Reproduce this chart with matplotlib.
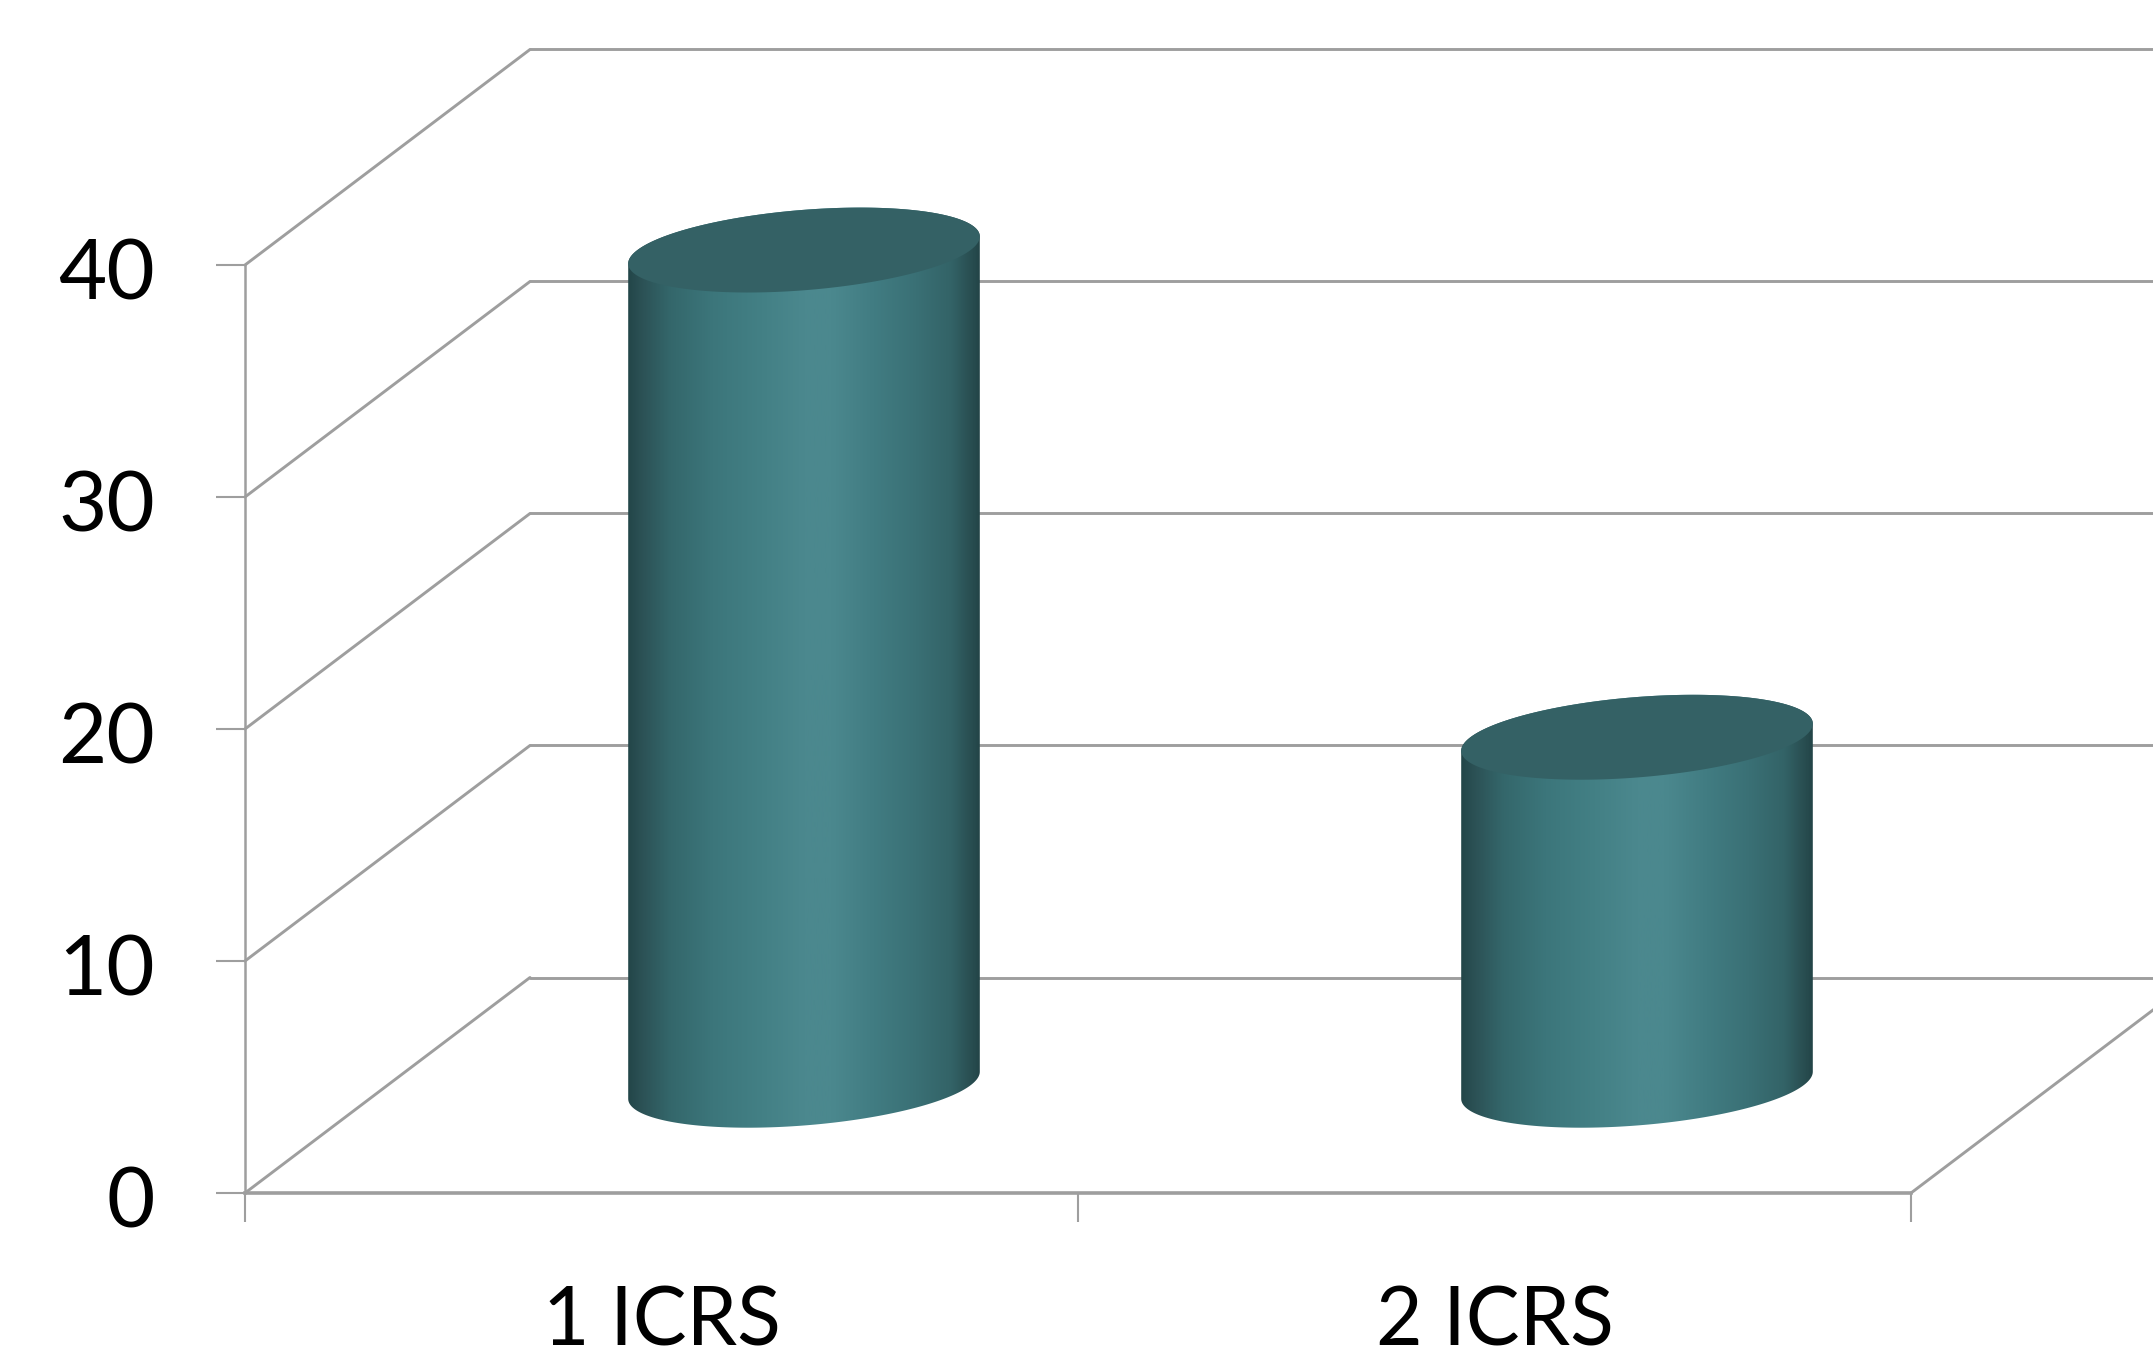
import numpy as np
import matplotlib
matplotlib.use("Agg")
import matplotlib.pyplot as plt
from matplotlib.colors import LinearSegmentedColormap
from matplotlib.patches import Polygon
from matplotlib.transforms import ScaledTranslation

# Chart data
categories = ["1 ICRS", "2 ICRS"]
values = [36, 15]
value_ticks = [0, 10, 20, 30, 40]

# Canvas and plot box, in pixels
W, H = 2153, 1351
LEFT, RIGHT, BOTTOM, TOP = 245, 1911, 1193, 265

# Oblique projection: a full unit of depth, expressed in data units
DEPTH_DX = 285 / ((RIGHT - LEFT) / 2)
DEPTH_DY = 215.5 / ((BOTTOM - TOP) / 40)

# Cylinder footprint
RADIUS_X = 0.2
RADIUS_DEPTH = 0.197
BAR_DEPTH = 0.5

GRID = "#9e9e9e"
TOP_FACE = "#346165"
SIDE_SHADE = LinearSegmentedColormap.from_list(
    "cylinder",
    [(0.00, "#234649"), (0.04, "#2c5256"), (0.12, "#34676b"), (0.24, "#3c767b"),
     (0.38, "#438085"), (0.50, "#4b888e"), (0.58, "#4b888e"), (0.70, "#417c82"),
     (0.82, "#3a7075"), (0.92, "#336367"), (0.97, "#2a5053"), (1.00, "#234548")],
)

plt.rcParams["font.family"] = ["Lato", "DejaVu Sans"]
fig = plt.figure(figsize=(W / 100, H / 100), dpi=100, facecolor="white")
ax = fig.add_axes([LEFT / W, (H - BOTTOM) / H, (RIGHT - LEFT) / W, (BOTTOM - TOP) / H])
ax.set_xlim(0, len(categories))
ax.set_ylim(0, value_ticks[-1])
ax.set_facecolor("none")


def project(cat, val, depth):
    """Map category, value and depth onto the flat data plane."""
    return cat + depth * DEPTH_DX, val + depth * DEPTH_DY


def line3d(start, end, lw=2.1):
    xs, ys = zip(project(*start), project(*end))
    ax.plot(xs, ys, color=GRID, lw=lw, clip_on=False, zorder=1, solid_capstyle="round")


# Back wall gridlines and side wall diagonals
far_right = len(categories) + 1
for v in value_ticks:
    line3d((0, v, 1), (far_right, v, 1))
    line3d((0, v, 0), (0, v, 1))
# Right edge of the floor
line3d((len(categories), 0, 0), (len(categories), 0, 1))

# Axes frame and ticks
for side in ("top", "right"):
    ax.spines[side].set_visible(False)
ax.spines["left"].set_color(GRID)
ax.spines["left"].set_linewidth(1.8)
ax.spines["bottom"].set_color(GRID)
ax.spines["bottom"].set_linewidth(2.6)
ax.set_yticks(value_ticks)
ax.set_xticks(range(len(categories) + 1))
ax.set_xticklabels([""] * (len(categories) + 1))
ax.tick_params(axis="y", length=21, width=1.5, color=GRID, labelsize=60, pad=44, labelcolor="black")
ax.tick_params(axis="x", length=21, width=1.5, color=GRID)
label_shift = ScaledTranslation(0, -4 / 100, fig.dpi_scale_trans)
for label in ax.get_yticklabels():
    label.set_transform(label.get_transform() + label_shift)
for i, name in enumerate(categories):
    ax.annotate(name, xy=(i + 0.5, 0), xycoords="data", xytext=(0, -93),
                textcoords="offset points", ha="center", va="center",
                fontsize=58, color="black", annotation_clip=False)


def ellipse(cat, val, t):
    x = cat + RADIUS_X * np.cos(t) + RADIUS_DEPTH * np.sin(t) * DEPTH_DX
    y = val + RADIUS_DEPTH * np.sin(t) * DEPTH_DY
    return x, y


# Cylinders: shaded side clipped to the outline, flat cap on top
gradient = np.linspace(0, 1, 512)[None, :]
t0 = np.arctan2(RADIUS_DEPTH * DEPTH_DX, RADIUS_X)
half_width = np.hypot(RADIUS_X, RADIUS_DEPTH * DEPTH_DX)
for i, v in enumerate(values):
    cx, base = project(i + 0.5, 0, BAR_DEPTH)
    top = base + v
    lower = np.linspace(t0 + np.pi, t0 + 2 * np.pi, 120)
    upper = np.linspace(t0, t0 + np.pi, 120)
    outline = np.vstack([np.column_stack(ellipse(cx, base, lower)),
                         np.column_stack(ellipse(cx, top, upper))])
    clip = Polygon(outline, closed=True, transform=ax.transData)
    im = ax.imshow(gradient, cmap=SIDE_SHADE, vmin=0, vmax=1, aspect="auto", zorder=3,
                   extent=(cx - half_width, cx + half_width, base - 10, top + 10))
    im.set_clip_box(fig.bbox)
    im.set_clip_path(clip)
    cap = np.linspace(0, 2 * np.pi, 240)
    ax.fill(*ellipse(cx, top, cap), color=TOP_FACE, lw=0, zorder=4, clip_on=False)

ax.set_xlim(0, len(categories))
ax.set_ylim(0, value_ticks[-1])
fig.savefig("out.png", dpi=100)
